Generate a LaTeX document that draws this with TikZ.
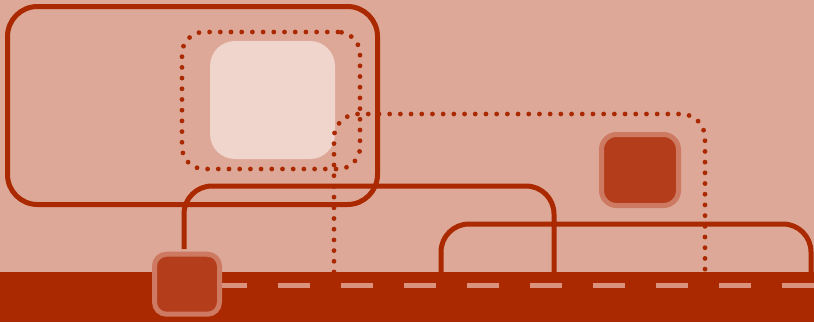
\documentclass[tikz,border=0pt]{standalone}
\usepackage{tikz}
\usetikzlibrary{positioning, calc}
\definecolor{sand}{RGB}{221,168,152}
\definecolor{rust}{RGB}{170,41,0}
\definecolor{pale}{RGB}{240,213,204}
\definecolor{stopfill}{RGB}{180,62,27}
\definecolor{stopedge}{RGB}{206,122,99}
\definecolor{lanecol}{RGB}{218,146,124}

\begin{document}
\begin{tikzpicture}[
  x=1pt, y=-1pt,
  frame/.style={rectangle, rounded corners=30pt, draw=rust, line width=5pt, minimum width=370pt, minimum height=198pt, inner sep=0pt},
  focusbox/.style={rectangle, rounded corners=25pt, fill=pale, minimum width=125pt, minimum height=118pt, inner sep=0pt},
  ringbox/.style={rectangle, rounded corners=22pt, draw=rust, line width=4.8pt, dash pattern=on 0pt off 10.7pt, line cap=round, minimum width=178pt, minimum height=137pt, inner sep=0pt},
  stop/.style={rectangle, rounded corners=12pt, fill=stopfill, draw=stopedge, line width=5pt, inner sep=0pt},
  track/.style={draw=rust, line width=5pt, rounded corners=28pt},
  dotline/.style={draw=rust, line width=4.8pt, dash pattern=on 0pt off 10.7pt, line cap=round, rounded corners=24pt},
  lane/.style={draw=lanecol, line width=5pt}
]
  \useasboundingbox (0,0) rectangle (814,322);
  \fill[sand] (0,0) rectangle (814,322);

  % Cadre principal
  \node[frame] (panel) at (192.5,105.5) {};
  \node[focusbox] (focus) at (272.5,100) {};
  \node[ringbox] (ring) at (271,100.5) {};

  % Route
  \fill[rust] (0,272) rectangle (814,322);
  \foreach \x in {215,278,...,783} {
    \draw[lane] (\x,285.5) -- ++(32,0);
  }

  % Points sur la route
  \coordinate (r1) at (554,272);
  \coordinate (r2) at (441,272);
  \coordinate (r3) at (811,272);
  \coordinate (d1) at (334,272);
  \coordinate (d2) at (705,272);

  % Arrets
  \node[stop, minimum width=65pt, minimum height=60pt] (stopA) at (187,284.2) {};
  \node[stop, minimum width=77pt, minimum height=71pt, rounded corners=15pt] (stopB) at (640,170) {};

  % Lignes
  \draw[track, shorten <=2.5pt] ([xshift=-3pt]stopA.north) -- ([xshift=-3pt]stopA.north |- 0,186) -| (r1);
  \draw[track] (r2) -- (441,224) -| (r3);
  \draw[dotline] (d1) -- (334,114) -| (d2);
\end{tikzpicture}
\end{document}
